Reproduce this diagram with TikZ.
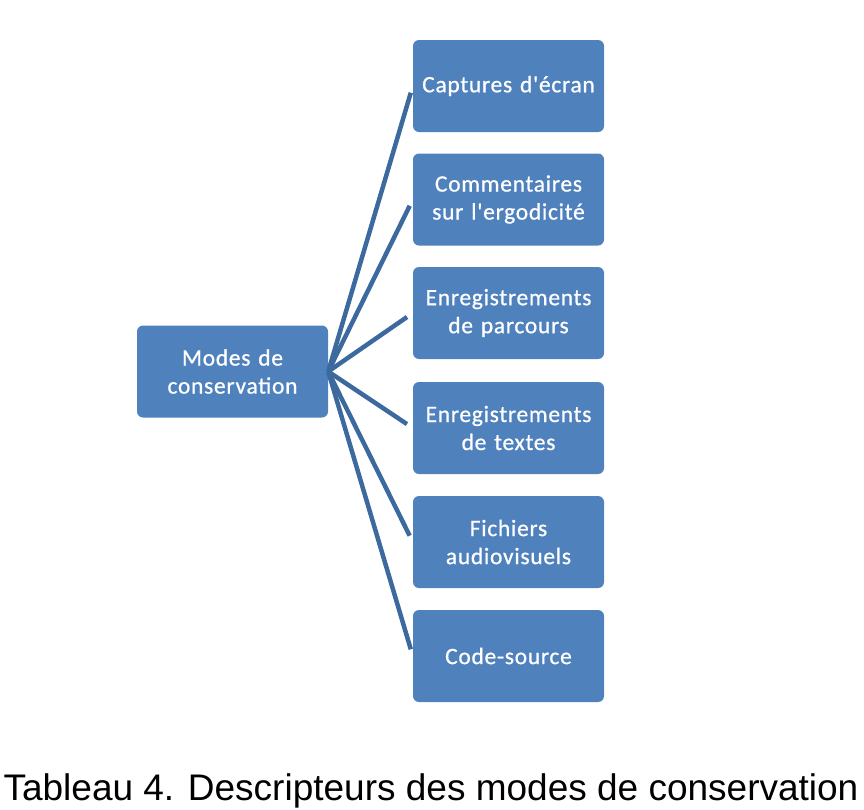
\documentclass[tikz,border=0pt]{standalone}
\usepackage{fontspec}
\setmainfont{Carlito}
\newfontfamily\boxfont[LetterSpace=3,FakeBold=0.7]{Carlito}
\newfontfamily\capfont{Liberation Sans}
\definecolor{boxblue}{HTML}{4F81BD}
\definecolor{lineblue}{HTML}{3D6A9E}
\newcommand{\apos}{\symbol{39}}
\begin{document}
\begin{tikzpicture}[x=1pt,y=-1pt,
  box/.style={fill=boxblue, rounded corners=6pt, minimum width=191pt, minimum height=92pt,
    text=white, align=center, font=\boxfont\fontsize{23.5}{28}\selectfont, inner sep=0pt, text width=189pt},
  conn/.style={draw=lineblue, line width=4.5pt, shorten >=7pt}]
\useasboundingbox (0,0) rectangle (864,809);
\node[box] (root) at (232.5,371.5) {Modes de\\conservation};
\node[box] (c1) at (508.5,86) {Captures d\apos écran};
\node[box] (c2) at (508.5,199.5) {Commentaires\\sur l\apos ergodicité};
\node[box] (c3) at (508.5,313) {Enregistrements\\de parcours};
\node[box] (c4) at (508.5,428) {Enregistrements\\de textes};
\node[box] (c5) at (508.5,542) {Fichiers\\audiovisuels};
\node[box] (c6) at (508.5,656) {Code-source};
\foreach \c in {c1,c2,c3,c4,c5,c6}
  \draw[conn] (root.east) -- (\c.west);
\node[font=\capfont\fontsize{37}{44}\selectfont, inner sep=0pt, anchor=base] (cap) at (431,800) {Tableau 4. Descripteurs des modes de conservation};
\end{tikzpicture}
\end{document}
